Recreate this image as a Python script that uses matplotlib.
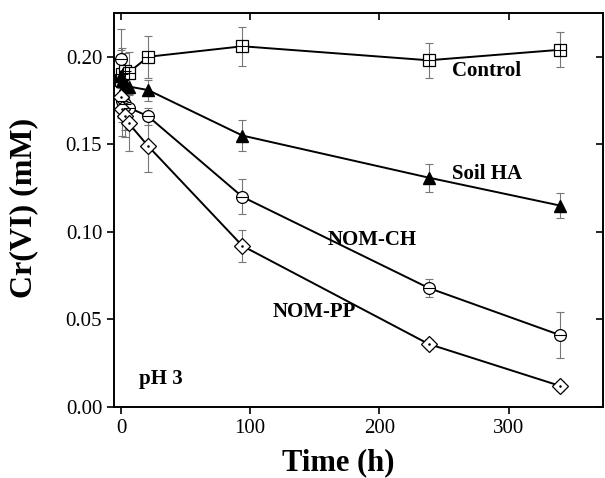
import matplotlib
matplotlib.use("Agg")
import matplotlib.pyplot as plt

times = [0, 1, 3, 6, 21, 94, 238, 340]

control = [0.187, 0.190, 0.192, 0.191, 0.200, 0.206, 0.198, 0.204]
control_err = [0.012, 0.015, 0.010, 0.012, 0.012, 0.011, 0.010, 0.010]

soil_ha = [0.189, 0.186, 0.184, 0.183, 0.181, 0.155, 0.131, 0.115]
soil_ha_err = [0.015, 0.012, 0.010, 0.010, 0.006, 0.009, 0.008, 0.007]

nom_ch = [0.199, 0.175, 0.173, 0.171, 0.166, 0.120, 0.068, 0.041]
nom_ch_err = [0.017, 0.012, 0.015, 0.012, 0.005, 0.010, 0.005, 0.013]

nom_pp = [0.177, 0.170, 0.166, 0.162, 0.149, 0.092, 0.036, 0.012]
nom_pp_err = [0.012, 0.015, 0.012, 0.016, 0.015, 0.009, 0.003, 0.003]

series_labels = ["Control", "Soil HA", "NOM-CH", "NOM-PP"]
xticks = [0, 100, 200, 300]
yticks = [0.00, 0.05, 0.10, 0.15, 0.20]

plt.rcParams['font.family'] = ['Liberation Serif', 'DejaVu Serif']

fig = plt.figure(figsize=(6.05, 4.78), dpi=100)
ax = fig.add_axes([114/605, 1-407/478, (603-114)/605, (407-13)/478])

ms = 8.5
ecol = '#777777'

def draw(y, err, marker, filled, inner=None, inner_ms=None):
    ax.errorbar(times, y, yerr=err, fmt='none', ecolor=ecol, elinewidth=0.8,
                capsize=3, capthick=0.8, zorder=1)
    ax.plot(times, y, '-', color='black', lw=1.4, zorder=2)
    if filled:
        ax.plot(times, y, linestyle='none', marker=marker, ms=ms, mfc='black',
                mec='black', zorder=3)
    else:
        ax.plot(times, y, linestyle='none', marker=marker, ms=ms, mfc='white',
                mec='black', mew=0.9, zorder=3)
    if inner:
        ax.plot(times, y, linestyle='none', marker=inner, ms=inner_ms,
                mec='black', mfc='black', mew=0.8, zorder=4)

draw(control, control_err, 's', False, '+', ms)
draw(soil_ha, soil_ha_err, '^', True)
draw(nom_ch, nom_ch_err, 'o', False, '_', ms)
draw(nom_pp, nom_pp_err, 'D', False, '.', 2)

ax.set_xlim(-5.4, 373)
ax.set_ylim(0, 0.225)
ax.set_xticks(xticks)
ax.set_yticks(yticks)
ax.set_yticklabels([f"{v:.2f}" for v in yticks])
ax.tick_params(axis='both', direction='out', length=5, width=1.2, labelsize=15)
ax.tick_params(axis='both', which='both', top=True, right=True)
for t in ax.xaxis.get_major_ticks():
    t.tick2line.set_marker(3)  # inward at top
for t in ax.yaxis.get_major_ticks():
    t.tick2line.set_marker(0)  # inward at right
for sp in ax.spines.values():
    sp.set_linewidth(1.4)

ax.set_xlabel("Time (h)", fontsize=22, fontweight='bold')
ax.set_ylabel("Cr(VI) (mM)", fontsize=23, fontweight='bold')
ax.xaxis.set_label_coords((338-114)/489, -(463-407)/394)
ax.yaxis.set_label_coords(-(114-24)/489, (407-208)/394)
ax.xaxis.label.set_va('center')
ax.yaxis.label.set_va('center')

tkw = dict(fontsize=15, fontweight='bold', va='center', ha='left')
ax.text(256, 0.192, series_labels[0], **tkw)
ax.text(256, 0.133, series_labels[1], **tkw)
ax.text(160, 0.0954, series_labels[2], **tkw)
ax.text(117.5, 0.054, series_labels[3], **tkw)
ax.text(14, 0.016, "pH 3", **tkw)

fig.savefig("out.png", dpi=100)
